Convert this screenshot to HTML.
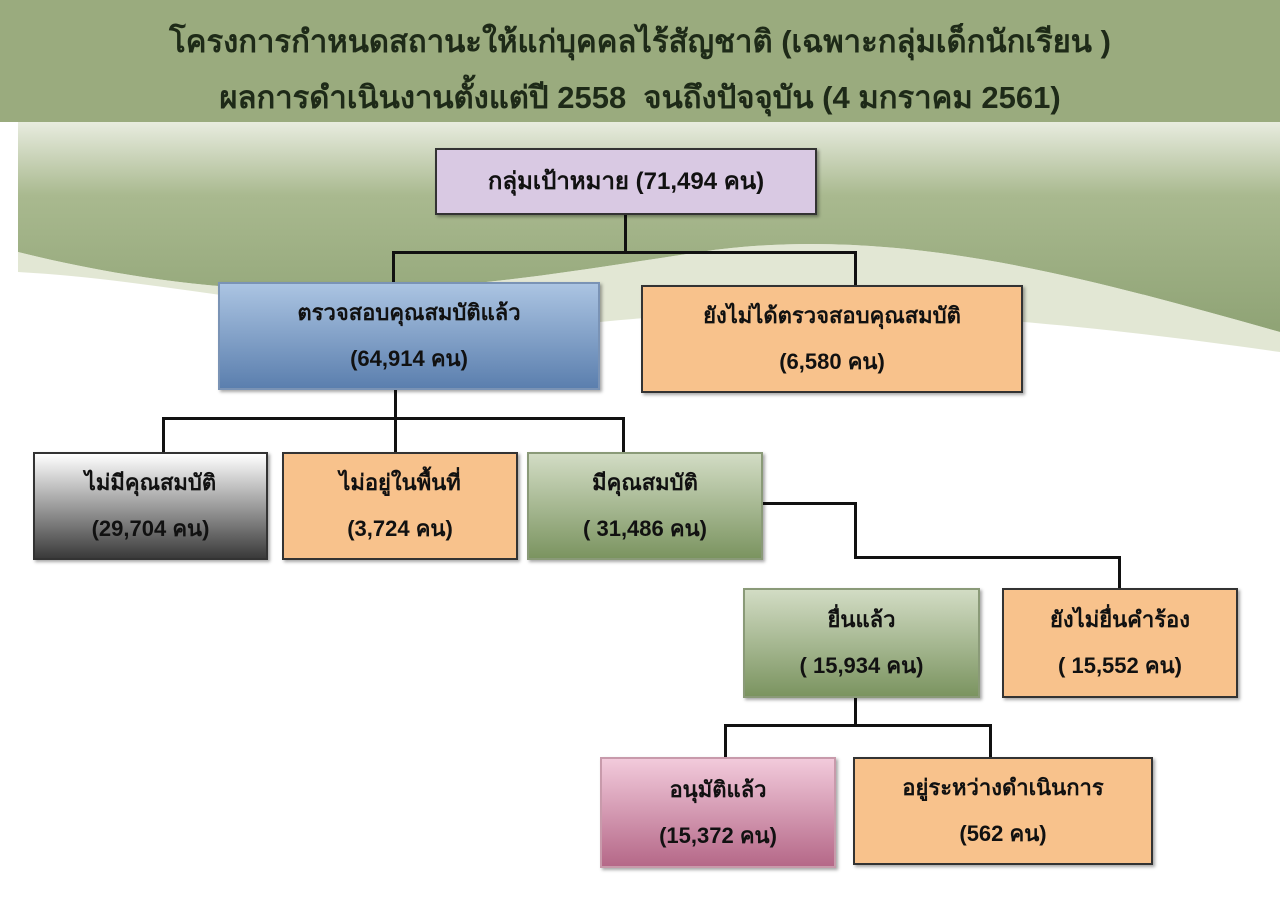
<!DOCTYPE html>
<html><head><meta charset="utf-8"><style>
body{margin:0;width:1280px;height:901px;position:relative;background:#fff;overflow:hidden;font-family:"Liberation Sans","DejaVu Sans","Noto Sans CJK SC",sans-serif;}
.hdr{position:absolute;left:0;top:0;width:1280px;height:122px;background:#9aab7e;}
.hdr div{position:absolute;left:0;width:1280px;text-align:center;font-size:31px;font-weight:bold;color:#1e2a18;}
.b{position:absolute;box-sizing:border-box;border:2px solid #333;text-align:center;font-weight:bold;font-size:22px;color:#111;display:flex;flex-direction:column;justify-content:center;line-height:46px;box-shadow:2px 2px 3px rgba(0,0,0,.35);}
.or{background:#f8c28c;}
.gr{background:linear-gradient(#d2dcc4,#7b9460);}
.l{position:absolute;background:#111;}
</style></head><body>
<div class="hdr"><div style="top:16px">โครงการกำหนดสถานะให้แก่บุคคลไร้สัญชาติ (เฉพาะกลุ่มเด็กนักเรียน )</div><div style="top:72px">ผลการดำเนินงานตั้งแต่ปี 2558&nbsp; จนถึงปัจจุบัน (4 มกราคม 2561)</div></div>
<svg style="position:absolute;left:0;top:122px" width="1280" height="230"><defs><linearGradient id="g" x1="0" y1="0" x2="0" y2="1"><stop offset="0" stop-color="#e8ecdf"/><stop offset=".35" stop-color="#a9b98f"/><stop offset="1" stop-color="#8fa375"/></linearGradient></defs><path d="M18 0 L1280 0 L1280 210 C1100 160 900 100 700 130 C500 160 300 200 18 130 Z" fill="url(#g)"/><path d="M18 130 C300 200 500 160 700 130 C900 100 1100 160 1280 210 L1280 230 C1000 190 800 180 600 200 C400 215 200 160 18 150Z" fill="#d5ddc2" opacity=".7"/></svg>
<div class="l" style="left:624px;top:214px;width:3px;height:39px"></div>
<div class="l" style="left:392px;top:251px;width:465px;height:3px"></div>
<div class="l" style="left:392px;top:251px;width:3px;height:32px"></div>
<div class="l" style="left:854px;top:251px;width:3px;height:35px"></div>
<div class="l" style="left:394px;top:389px;width:3px;height:30px"></div>
<div class="l" style="left:162px;top:417px;width:463px;height:3px"></div>
<div class="l" style="left:162px;top:417px;width:3px;height:36px"></div>
<div class="l" style="left:394px;top:417px;width:3px;height:36px"></div>
<div class="l" style="left:622px;top:417px;width:3px;height:36px"></div>
<div class="l" style="left:762px;top:502px;width:95px;height:3px"></div>
<div class="l" style="left:854px;top:502px;width:3px;height:56px"></div>
<div class="l" style="left:854px;top:556px;width:267px;height:3px"></div>
<div class="l" style="left:1118px;top:556px;width:3px;height:33px"></div>
<div class="l" style="left:854px;top:697px;width:3px;height:29px"></div>
<div class="l" style="left:724px;top:724px;width:268px;height:3px"></div>
<div class="l" style="left:724px;top:724px;width:3px;height:34px"></div>
<div class="l" style="left:989px;top:724px;width:3px;height:34px"></div>
<div class="b" style="left:435px;top:148px;width:382px;height:67px;background:#d9c9e3;font-size:24px">กลุ่มเป้าหมาย (71,494 คน)</div>
<div class="b" style="left:218px;top:282px;width:382px;height:108px;background:linear-gradient(#abc4e2,#5b7fae);border-color:#7a93b5"><span>ตรวจสอบคุณสมบัติแล้ว</span><span>(64,914 คน)</span></div>
<div class="b or" style="left:641px;top:285px;width:382px;height:108px"><span>ยังไม่ได้ตรวจสอบคุณสมบัติ</span><span>(6,580 คน)</span></div>
<div class="b" style="left:33px;top:452px;width:235px;height:108px;background:linear-gradient(#fff,#3a3a3a)"><span>ไม่มีคุณสมบัติ</span><span>(29,704 คน)</span></div>
<div class="b or" style="left:282px;top:452px;width:236px;height:108px"><span>ไม่อยู่ในพื้นที่</span><span>(3,724 คน)</span></div>
<div class="b gr" style="left:527px;top:452px;width:236px;height:108px;border-color:#8a9a78"><span>มีคุณสมบัติ</span><span>( 31,486 คน)</span></div>
<div class="b gr" style="left:743px;top:588px;width:237px;height:110px;border-color:#8a9a78"><span>ยื่นแล้ว</span><span>( 15,934 คน)</span></div>
<div class="b or" style="left:1002px;top:588px;width:236px;height:110px"><span>ยังไม่ยื่นคำร้อง</span><span>( 15,552 คน)</span></div>
<div class="b" style="left:600px;top:757px;width:236px;height:111px;background:linear-gradient(#f2cadb,#b56888);border-color:#c89aab"><span>อนุมัติแล้ว</span><span>(15,372 คน)</span></div>
<div class="b or" style="left:853px;top:757px;width:300px;height:108px"><span>อยู่ระหว่างดำเนินการ</span><span>(562 คน)</span></div>
</body></html>
